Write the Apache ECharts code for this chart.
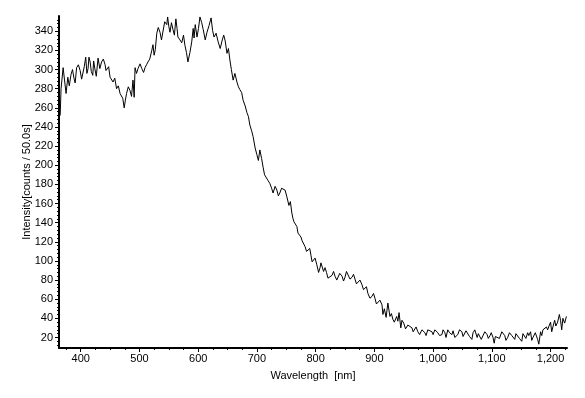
<!DOCTYPE html>
<html>
<head>
<meta charset="utf-8">
<script src="https://cdn.jsdelivr.net/npm/echarts@6/dist/echarts.min.js"></script>
<style>html,body{margin:0;padding:0;background:#fff}#c{width:585px;height:398px}</style>
</head>
<body>
<div id="c"></div>
<script>
// Main readings of the spectrum (wavelength nm, intensity counts)
const wavelength = [365,366.5,370,375,378,383.5,388.5,393,399,404,408.5,412.5,416,420.5,424,429.5,435.5,441.5,445,450,455,461,467,471.5,474,478,484,489,491,492.5,497.5,504,509.5,514.5,521,525,529.5,535,540,546.5,548,552,557,562,565.5,572,577.5,582.5,589,591.5,595,598,603,608.5,615,622,627,634,641,646,649,654,659.5,666,671,676.5,683,688,693.5,700,705,710.5,715.5,722,727.5,734,739,744.5,748,751,754.5,759.5,763,768,770,775,778.5,782,787,792,795.5,802,807.5,811,816,821,828,833,838,845,850,855,862,867,872,879,884,889,896,901,906,913,914.5,923,926.5,931.5,938,942,945,950,957,964,969,974,981,986,991,998,1003,1008,1015,1020,1025,1032,1037,1042,1049,1054,1059,1066,1068,1075,1080,1085,1092,1097,1102,1104,1109,1117,1122,1127,1134,1139,1144,1151,1156,1161,1166,1170,1177,1180,1183,1187,1193,1198,1202,1207,1212,1215,1219,1221,1227];
const intensity = [252,280,302,275,292,295,291,302,299,292,313,301,308,294,301,312,308,305,297,292,287,280,275,270,260,275,278,289,271,302,301,301,302,308,320,315,338,339,333,347,355,339,342,353,334,328,325,308,329,343,347,334,355,342,339,354,334,329,331,330,317,310,289,287,279,268,255,242,230,211,216,198,192,181,171,174,171,174,174,167,158,150,141,136,129,125,119,115,111,106,101,96,93,96,93,82,85,84,78,84,83,87,83,81,78,75,72,66,63,61,57,54,44,56,42,39,42,46,30,35,33,30,28,26,28,25,28,26,28,25,23,25,28,23,20,23,26,22,26,18,25,20,22,20,23,22,20,14,23,26,22,20,22,18,22,16,22,25,26,20,23,13,26,28,31,33,26,38,36,44,28,40,42];
// Intermediate readings of the noise between the main readings
const wavelengthNoise = [380.5,386,390.5,396,401.5,406,410.5,414,418,422,426.5,432.5,438.5,443,447.5,452.5,458,464,469,476,481,486.5,495,501,507,512,517.5,523,527,532,537.5,543,550,554.5,559.5,564,569,575,580,586,593,600.5,606,612,618.5,624.5,630.5,637.5,643.5,651.5,656.5,662.5,668.5,674,680,685.5,691,697,702.5,708,713,719,725,731,736.5,742,757,761.5,766,773,777,780,784.5,790,794,799,805,809,813.5,818.5,824,830.5,836,841,847.5,852.5,858.5,864.5,869.5,875.5,881.5,886.5,892.5,898.5,903.5,909.5,917,920,929,934,940,947,953,960,966,971,977,983,988,994,1000,1005,1011,1017,1022,1028,1034,1039,1045,1051,1056,1062,1071,1077,1082,1088,1094,1099,1106,1113,1119,1124,1130,1136,1141,1147,1153,1158,1163,1168,1174,1178,1185,1190,1195,1200,1204,1209,1217,1224];
const intensityNoise = [283,300,286,305,290,303,296,313,298,309,293,301,311,299,303,290,291,283,277,268,282,272,296,306,297,305,311,326,321,344,331,350,345,349,336,343,331,336,318,318,333,343,349,331,346,341,338,322,336,322,300,296,282,276,262,251,236,218,205,207,190,184,176,178,168,176,162,144,140,130,121,123,110,113,99,103,88,98,89,88,80,89,80,87,79,89,81,86,76,80,70,73,61,66,55,59,50,41,45,36,37,38,29,34,26,31,23,30,22,30,23,30,22,28,20,25,27,19,28,21,27,21,28,24,18,26,19,25,21,19,25,17,25,21,24,19,24,19,22,17,25,18,22,26,28,36,31,32,38,35];
const xTickLabels = [400,500,600,700,800,900,1000,1100,1200];
const yTickLabels = [20,40,60,80,100,120,140,160,180,200,220,240,260,280,300,320,340];
const xMinorTicks = [];
for (let v = 375; v <= 1225; v += 25) xMinorTicks.push(v);
const yMinorTicks = [];
for (let v = 12; v <= 352; v += 4) yMinorTicks.push(v);

const points = wavelength.map((w, i) => [w, intensity[i]])
  .concat(wavelengthNoise.map((w, i) => [w, intensityNoise[i]]))
  .sort((a, b) => a[0] - b[0]);

const X_MIN = 363, X_MAX = 1228, Y_MIN = 9, Y_MAX = 356;
const font = 'Liberation Sans, Arial, sans-serif';
const chart = echarts.init(document.getElementById('c'), null, {renderer: 'canvas'});
chart.setOption({
  animation: false,
  backgroundColor: '#fff',
  grid: {left: 59, top: 16, right: 18, bottom: 50, containLabel: false},
  xAxis: [{
    type: 'value', min: X_MIN, max: X_MAX, position: 'bottom',
    name: 'Wavelength  [nm]', nameLocation: 'middle', nameGap: 22, nameMoveOverlap: false,
    nameTextStyle: {color: '#000', fontFamily: font, fontSize: 11},
    axisLine: {show: true, lineStyle: {color: '#000', width: 2}},
    axisTick: {show: true, length: 4, customValues: xTickLabels, lineStyle: {color: '#000', width: 1}},
    axisLabel: {show: true, customValues: xTickLabels, color: '#000', fontFamily: font, fontSize: 11, margin: 5,
      formatter: v => v.toLocaleString('en-US')},
    splitLine: {show: false}
  }, {
    type: 'value', min: X_MIN, max: X_MAX, position: 'bottom', offset: 0,
    axisLine: {show: false},
    axisTick: {show: true, length: 2, customValues: xMinorTicks, lineStyle: {color: '#000', width: 1}},
    axisLabel: {show: false}, splitLine: {show: false}
  }],
  yAxis: [{
    type: 'value', min: Y_MIN, max: Y_MAX, position: 'left',
    name: 'Intensity[counts / 50.0s]', nameLocation: 'middle', nameGap: 27, nameRotate: 90, nameMoveOverlap: false,
    nameTextStyle: {color: '#000', fontFamily: font, fontSize: 11},
    axisLine: {show: true, lineStyle: {color: '#000', width: 2}},
    axisTick: {show: true, length: 4, customValues: yTickLabels, lineStyle: {color: '#000', width: 1}},
    axisLabel: {show: true, customValues: yTickLabels, color: '#000', fontFamily: font, fontSize: 11, margin: 6},
    splitLine: {show: false}
  }, {
    type: 'value', min: Y_MIN, max: Y_MAX, position: 'left', offset: 0,
    axisLine: {show: false},
    axisTick: {show: true, length: 2, customValues: yMinorTicks, lineStyle: {color: '#000', width: 1}},
    axisLabel: {show: false}, splitLine: {show: false}
  }],
  series: [{
    type: 'line', xAxisIndex: 0, yAxisIndex: 0,
    data: points,
    symbol: 'none', lineStyle: {color: '#000', width: 1}, silent: true
  }]
});
</script>
</body>
</html>
